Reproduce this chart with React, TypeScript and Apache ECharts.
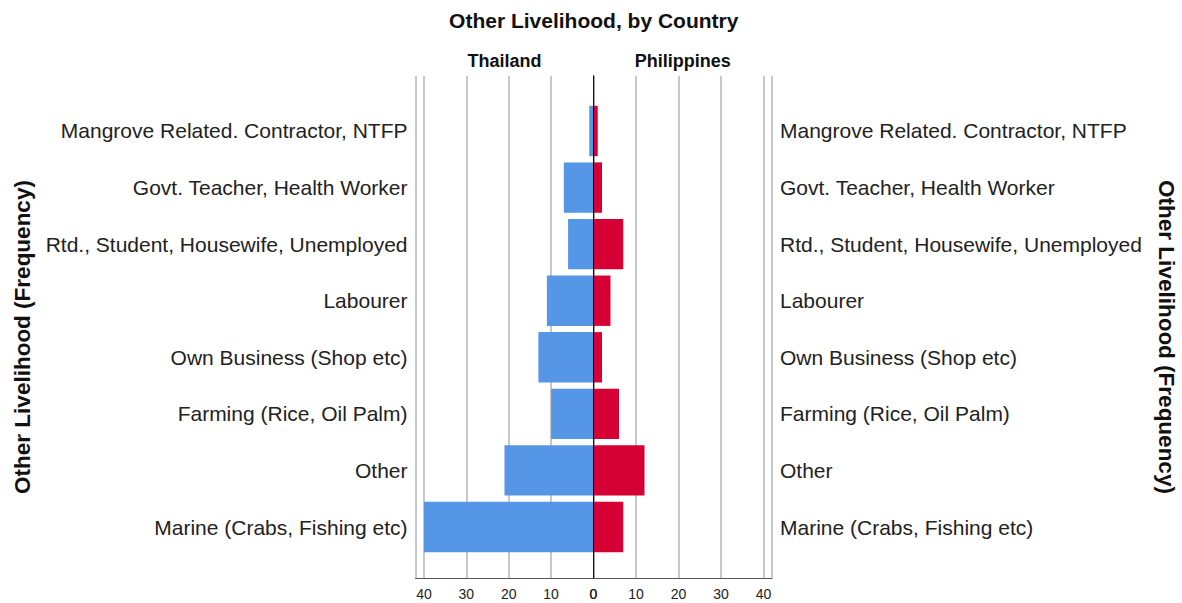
import React, { useEffect, useRef } from "react";
import * as echarts from "echarts";

const categories = [
  "Mangrove Related. Contractor, NTFP",
  "Govt. Teacher, Health Worker",
  "Rtd., Student, Housewife, Unemployed",
  "Labourer",
  "Own Business (Shop etc)",
  "Farming (Rice, Oil Palm)",
  "Other",
  "Marine (Crabs, Fishing etc)",
];
const thailand = [1, 7, 6, 11, 13, 10, 21, 40];
const philippines = [1, 2, 7, 4, 2, 6, 12, 7];
const countryNames = ["Thailand", "Philippines"];
const chartTitle = "Other Livelihood, by Country";
const axisTitle = "Other Livelihood (Frequency)";
const axisMax = 42;
const tickStep = 10;

const FONT = "'Liberation Sans', Arial, sans-serif";

export default function App() {
  const ref = useRef<HTMLDivElement>(null);
  useEffect(() => {
    if (!ref.current) return;
    const chart = echarts.init(ref.current, undefined, { renderer: "svg" });
    const L = 415.5, C = 593.5, R = 772;
    const barTop = 102.7, barH = 452.6;
    const frameTop = 76, frameH = 502;
    const tickLabel = {
      fontSize: 14,
      color: "#222",
      fontFamily: FONT,
      margin: 9,
      formatter: (v: number) => (v % tickStep === 0 ? String(v) : ""),
    };
    const split = { show: true, lineStyle: { color: "#c8c8c8", width: 2 } };
    const catLabel = { fontSize: 21, color: "#222", fontFamily: FONT, margin: 8 };
    const option: any = {
      animation: false,
      backgroundColor: "#fff",
      textStyle: { fontFamily: FONT },
      grid: [
        { left: L, top: barTop, width: C - L, height: barH },
        { left: C, top: barTop, width: R - C, height: barH },
        { left: L, top: frameTop, width: C - L, height: frameH },
        { left: C, top: frameTop, width: R - C, height: frameH },
      ],
      xAxis: [
        { gridIndex: 0, type: "value", min: 0, max: axisMax, inverse: true, show: false },
        { gridIndex: 1, type: "value", min: 0, max: axisMax, show: false },
        {
          gridIndex: 2, type: "value", min: 0, max: axisMax, interval: tickStep, inverse: true,
          axisLine: { show: true, lineStyle: { color: "#555", width: 1 } },
          axisTick: { show: false }, axisLabel: tickLabel, splitLine: split,
        },
        {
          gridIndex: 3, type: "value", min: 0, max: axisMax, interval: tickStep,
          axisLine: { show: true, lineStyle: { color: "#555", width: 1 } },
          axisTick: { show: false }, axisLabel: tickLabel, splitLine: split,
        },
      ],
      yAxis: [
        {
          gridIndex: 0, type: "category", data: categories, inverse: true,
          axisLine: { show: false }, axisTick: { show: false }, splitLine: { show: false },
          axisLabel: catLabel,
        },
        {
          gridIndex: 1, type: "category", data: categories, inverse: true, position: "right",
          axisLine: { show: false }, axisTick: { show: false }, splitLine: { show: false },
          axisLabel: catLabel,
        },
        {
          gridIndex: 2, type: "value", min: 0, max: 1, position: "left",
          axisLine: { show: true, lineStyle: { color: "#555", width: 1 } },
          axisTick: { show: false }, axisLabel: { show: false }, splitLine: { show: false },
        },
        {
          gridIndex: 2, type: "value", min: 0, max: 1, position: "right", z: 10,
          axisLine: { show: true, lineStyle: { color: "#111", width: 1 } },
          axisTick: { show: false }, axisLabel: { show: false }, splitLine: { show: false },
        },
        {
          gridIndex: 3, type: "value", min: 0, max: 1, position: "right",
          axisLine: { show: true, lineStyle: { color: "#999", width: 1.5 } },
          axisTick: { show: false }, axisLabel: { show: false }, splitLine: { show: false },
        },
      ],
      series: [
        {
          name: countryNames[0], type: "bar", xAxisIndex: 0, yAxisIndex: 0,
          data: thailand, barCategoryGap: "11%",
          itemStyle: { color: "#5596e6" },
        },
        {
          name: countryNames[1], type: "bar", xAxisIndex: 1, yAxisIndex: 1,
          data: philippines, barCategoryGap: "11%",
          itemStyle: { color: "#d50034" },
        },
      ],
      graphic: [
        {
          type: "text", x: (L + R) / 2, y: 20,
          style: { text: chartTitle, font: `bold 21px ${FONT}`, fill: "#111", textAlign: "center", textVerticalAlign: "middle" },
        },
        {
          type: "text", x: (L + C) / 2, y: 61,
          style: { text: countryNames[0], font: `bold 18px ${FONT}`, fill: "#111", textAlign: "center", textVerticalAlign: "middle" },
        },
        {
          type: "text", x: (C + R) / 2, y: 61,
          style: { text: countryNames[1], font: `bold 18px ${FONT}`, fill: "#111", textAlign: "center", textVerticalAlign: "middle" },
        },
        {
          type: "text", x: 22, y: 337, rotation: Math.PI / 2,
          style: { text: axisTitle, font: `bold 22.5px ${FONT}`, fill: "#111", textAlign: "center", textVerticalAlign: "middle" },
        },
        {
          type: "text", x: 1166, y: 337, rotation: -Math.PI / 2,
          style: { text: axisTitle, font: `bold 22.5px ${FONT}`, fill: "#111", textAlign: "center", textVerticalAlign: "middle" },
        },
      ],
    };
    chart.setOption(option);
    return () => chart.dispose();
  }, []);
  return (
    <div
      ref={ref}
      style={{ position: "fixed", left: 0, top: 0, width: 1182, height: 603, background: "#fff" }}
    />
  );
}
